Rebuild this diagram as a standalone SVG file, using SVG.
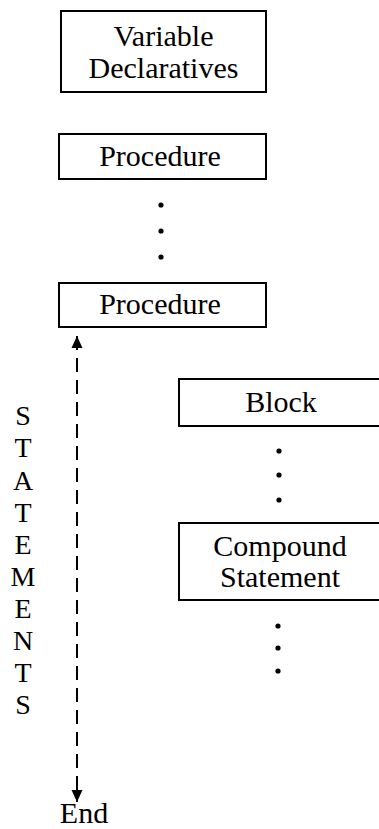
<svg xmlns="http://www.w3.org/2000/svg" width="379" height="829" viewBox="0 0 379 829">
<style>
.box{fill:#fff;stroke:#000;stroke-width:2}
.t{font-family:"Liberation Serif","Times New Roman",serif;font-size:30px;fill:#000;text-anchor:middle}
.s{font-size:28px}
.dot{fill:#000}
.conn{stroke:#000;stroke-width:2;stroke-dasharray:14 8;fill:none}
</style>
<defs>
<marker id="ah" viewBox="0 0 12 14" refX="12" refY="7" markerWidth="12" markerHeight="14" markerUnits="userSpaceOnUse" orient="auto-start-reverse">
<path d="M0,1.5 L12,7 L0,12.5 Z" fill="#000"/>
</marker>
</defs>
<rect width="379" height="829" fill="#fff"/>
<g id="variable-declaratives">
<rect class="box" x="61" y="11" width="205" height="81"/>
<text class="t" x="163.5" y="46">Variable</text>
<text class="t" x="163.5" y="78">Declaratives</text>
</g>
<g id="procedure-1">
<rect class="box" x="59" y="134" width="207" height="45"/>
<text class="t" x="160" y="166">Procedure</text>
</g>
<g id="dots-1">
<circle class="dot" cx="161" cy="205" r="2.6"/>
<circle class="dot" cx="161" cy="231" r="2.6"/>
<circle class="dot" cx="161" cy="257" r="2.6"/>
</g>
<g id="procedure-2">
<rect class="box" x="59" y="283" width="207" height="44"/>
<text class="t" x="160" y="314">Procedure</text>
</g>
<g id="block">
<rect class="box" x="179" y="379" width="210" height="47"/>
<text class="t" x="281" y="412">Block</text>
</g>
<g id="dots-2">
<circle class="dot" cx="279" cy="451" r="2.6"/>
<circle class="dot" cx="279" cy="475" r="2.6"/>
<circle class="dot" cx="279" cy="500" r="2.6"/>
</g>
<g id="compound-statement">
<rect class="box" x="179" y="523" width="210" height="77"/>
<text class="t" x="280" y="556">Compound</text>
<text class="t" x="280" y="587">Statement</text>
</g>
<g id="dots-3">
<circle class="dot" cx="278" cy="626" r="2.6"/>
<circle class="dot" cx="278" cy="648" r="2.6"/>
<circle class="dot" cx="278" cy="671" r="2.6"/>
</g>
<g id="statements-label" class="s">
<text class="t s" x="23" y="425">S</text>
<text class="t s" x="23" y="457">T</text>
<text class="t s" x="23" y="490">A</text>
<text class="t s" x="23" y="522">T</text>
<text class="t s" x="23" y="554">E</text>
<text class="t s" x="23" y="586">M</text>
<text class="t s" x="23" y="618">E</text>
<text class="t s" x="23" y="650">N</text>
<text class="t s" x="23" y="682">T</text>
<text class="t s" x="23" y="714">S</text>
</g>
<g id="end">
<text class="t" x="84" y="823">End</text>
</g>
<g id="connectors">
<line class="conn" x1="77" y1="336" x2="77" y2="802" marker-start="url(#ah)" marker-end="url(#ah)"/>
</g>
</svg>
